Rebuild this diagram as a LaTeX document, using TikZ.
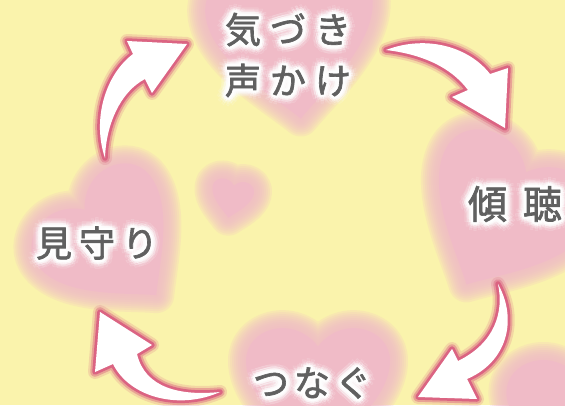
\documentclass[tikz,border=0pt]{standalone}
\usepackage{fontspec}
\newfontfamily\jp{Noto Sans CJK JP}[FakeBold=1.8]
\definecolor{bgyellow}{RGB}{250,243,172}
\definecolor{heartpink}{RGB}{240,187,199}
\definecolor{arrowpink}{RGB}{219,100,130}
\definecolor{txtgray}{RGB}{96,96,96}
\def\myheartpath{(0,-1) .. controls (-0.3,-0.7) and (-1,-0.2) .. (-1,0.35) .. controls (-1,0.8) and (-0.35,1.0) .. (0,0.55) .. controls (0.35,1.0) and (1,0.8) .. (1,0.35) .. controls (1,-0.2) and (0.3,-0.7) .. (0,-1) -- cycle}
\newcommand\fa{\jp\fontsize{36}{51}\selectfont}
\newcommand\fb{\jp\fontsize{39}{50}\selectfont}
\tikzset{
 heartblur/.style={draw=heartpink, line join=round, opacity=0.2},
 heartcore/.style={fill=heartpink},
 arrowglow/.style={draw=arrowpink, line join=round, line width=14pt, opacity=0.2},
 arrowedge/.style={draw=arrowpink, line join=round, line width=9.5pt, opacity=0.45},
 arrowline/.style={draw=arrowpink, line join=round, line width=5.5pt},
 arrowbody/.style={fill=white},
 wordtext/.style={text=txtgray, inner sep=0pt, align=center},
}
\newcommand\softheart[4]{%
 \begin{scope}[shift={(#1,#2)}, x=#3pt, y=#3pt, rotate=#4]
  \foreach \w in {36,32,...,4}{\draw[heartblur, line width=\w pt] \myheartpath;}
  \fill[heartcore] \myheartpath;
 \end{scope}}
\newcommand\softarrow[1]{%
 \draw[arrowglow] #1; \draw[arrowedge] #1; \draw[arrowline] #1; \fill[arrowbody] #1;}
\newcommand\glowword[5]{%
 \foreach \r/\o [count=\i] in {9/0.1,6.5/0.18,4.5/0.32,2.8/0.55,1.4/0.85}{%
  \foreach \a [count=\j] in {0,30,...,330}{%
   \node[wordtext, font=#4, text=white, text opacity=\o, shift={(\a:\r)}] (#1g\i-\j) at (#2,#3) {#5};}}%
 \node[wordtext, font=#4] (#1) at (#2,#3) {#5};}
\begin{document}
\begin{tikzpicture}[x=1pt,y=-1pt]
\useasboundingbox (0,0) rectangle (565,405);
\clip (0,0) rectangle (565,405);
\fill[bgyellow] (0,0) rectangle (565,405);
% hearts
\softheart{292}{35}{84}{6}
\softheart{505}{212}{82}{-28}
\softheart{110}{240}{72}{40}
\softheart{318}{386}{72}{0}
\softheart{580}{410}{70}{10}
\softheart{232}{197}{21}{-10}
% arrows
\softarrow{(386,50) .. controls (428,34) and (470,48) .. (490,74) -- (508,68) -- (505,128) -- (452,97) -- (468,90) .. controls (450,66) and (420,54) .. (386,50) -- cycle}
\softarrow{(498,284) .. controls (518,320) and (507,362) .. (467,379) -- (477,399) -- (418,397) -- (452,349) -- (458,361) .. controls (495,343) and (504,312) .. (498,284) -- cycle}
\softarrow{(220,392) .. controls (180,396) and (145,388) .. (137,354) -- (152,345) -- (100,312) -- (95,372) -- (113,364) .. controls (130,398) and (180,410) .. (220,392) -- cycle}
\softarrow{(105,158) .. controls (92,120) and (105,75) .. (133,54) -- (127,41) -- (187,44) -- (152,93) -- (145,79) .. controls (120,92) and (106,125) .. (105,158) -- cycle}
% words
\glowword{aware}{288}{55}{\fa}{気\hspace{9pt}づ\hspace{9pt}き\\声\hspace{9pt}か\hspace{9pt}け}
\glowword{listen}{515}{204}{\fb}{傾\hspace{16pt}聴}
\glowword{watch}{97}{243}{\fa}{見\hspace{7pt}守\hspace{7pt}り}
\glowword{connect}{312}{383}{\fa}{つ\hspace{5pt}な\hspace{5pt}ぐ}
\end{tikzpicture}
\end{document}
